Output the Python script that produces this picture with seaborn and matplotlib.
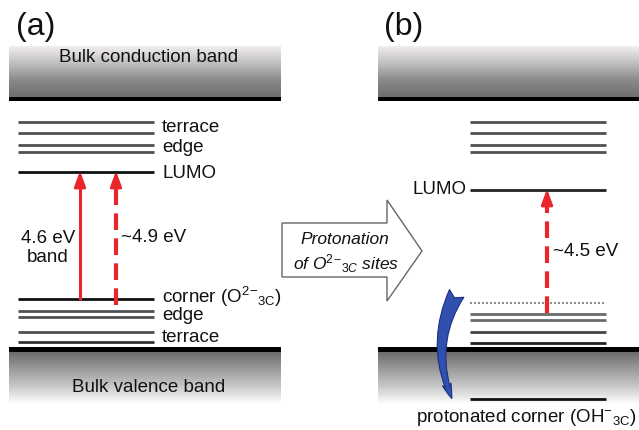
import numpy as np
import matplotlib
matplotlib.use("Agg")
import matplotlib.pyplot as plt
import seaborn as sns
from matplotlib.colors import LinearSegmentedColormap
from matplotlib.patches import Polygon, FancyArrowPatch

sns.set_theme(style="white")
plt.rcParams['font.family'] = ['Liberation Sans', 'DejaVu Sans']
plt.rcParams['mathtext.fontset'] = 'custom'
plt.rcParams['mathtext.rm'] = 'Liberation Sans'
plt.rcParams['mathtext.it'] = 'Liberation Sans:italic'

# ---- data (pixel-space energy levels) ----
panel_labels = ["(a)", "(b)"]
a_level_y = [122, 133, 145, 152, 172, 299, 311, 317, 332, 342]
a_level_c = ["#505050", "#505050", "#505050", "#505050", "#111111",
             "#111111", "#505050", "#505050", "#505050", "#333333"]
a_level_names = ["terrace", "edge", "LUMO",
                 "corner (O$^{\\mathrm{2}}$$^{-}$$_{\\mathrm{3C}}$)", "edge", "terrace"]
a_name_y = [127, 148, 173, 297, 316, 338]
b_level_y = [122, 133, 145, 152, 190, 314, 320, 332, 343, 399]
b_level_c = ["#505050", "#505050", "#505050", "#505050", "#222222",
             "#6a6a6a", "#6a6a6a", "#444444", "#222222", "#111111"]
b_dotted_y = 303
a_transitions = ["4.6 eV\nband", "~4.9 eV"]
b_transition = "~4.5 eV"

fig = plt.figure(figsize=(6.39, 4.30), dpi=100)
ax = fig.add_axes([0, 0, 1, 1])
ax.set_xlim(0, 639)
ax.set_ylim(430, 0)
ax.axis('off')

cb_cmap = LinearSegmentedColormap.from_list("cb", ["#f2eeee", "#c0c0c0", "#8a8a8a", "#6e6e6e"])
vb_cmap = LinearSegmentedColormap.from_list("vb", ["#6a6a6a", "#9a9a9a", "#c8c8c8", "#ffffff"])
grad = np.linspace(0, 1, 200)[:, None]

for (x0, x1) in [(9, 281), (378, 639)]:
    ax.imshow(grad, extent=(x0, x1, 97, 46), cmap=cb_cmap, aspect='auto', origin='upper', zorder=1)
    ax.fill_between([x0, x1], 97, 100.5, color='black', zorder=2, lw=0)
    ax.imshow(grad, extent=(x0, x1, 404, 351), cmap=vb_cmap, aspect='auto', origin='upper', zorder=1)
    ax.fill_between([x0, x1], 346.5, 351.5, color='black', zorder=2, lw=0)

lab_fs = 13.5
ax.text(149, 58, "Bulk conduction band", ha='center', va='center', fontsize=13.5, color='#111111', zorder=3)
ax.text(149, 387, "Bulk valence band", ha='center', va='center', fontsize=13.5, color='#111111', zorder=3)

ax.text(16, 27, panel_labels[0], ha='left', va='center', fontsize=23, color='#111111')
ax.text(384, 27, panel_labels[1], ha='left', va='center', fontsize=23, color='#111111')

for y, c in zip(a_level_y, a_level_c):
    ax.plot([18, 154], [y, y], color=c, lw=2.0, solid_capstyle='butt', zorder=3)
for y, c in zip(b_level_y, b_level_c):
    ax.plot([470, 606], [y, y], color=c, lw=2.0, solid_capstyle='butt', zorder=3)
ax.plot([470, 606], [b_dotted_y, b_dotted_y], color='#777777', lw=1.2, ls=(0, (1.2, 1.2)), zorder=3)

for name, y in zip(a_level_names, a_name_y):
    ax.text(162, y, name, ha='left', va='center', fontsize=lab_fs, color='#111111')
ax.text(467, 190, "LUMO", ha='right', va='center', fontsize=lab_fs, color='#111111')
ax.text(416, 417, "protonated corner (OH$^{-}$$_{\\mathrm{3C}}$)", ha='left', va='center',
        fontsize=lab_fs, color='#111111')

red = "#e8262c"
head = '-|>,head_length=0.75,head_width=0.28'
# solid arrow (a)
ax.plot([80, 80], [299, 180], color=red, lw=2.2, zorder=4)
ax.annotate("", xy=(80, 171), xytext=(80, 186),
            arrowprops=dict(arrowstyle=head, color=red, lw=2.2, shrinkA=0, shrinkB=0), zorder=4)
# dashed arrow (a)
ax.plot([116, 116], [305, 182], color=red, lw=3, ls=(0, (4, 2)), zorder=4)
ax.annotate("", xy=(116, 171), xytext=(116, 186),
            arrowprops=dict(arrowstyle=head, color=red, lw=2.2, shrinkA=0, shrinkB=0), zorder=4)
# dashed arrow (b)
ax.plot([547, 547], [313, 200], color=red, lw=3, ls=(0, (4, 2)), zorder=4)
ax.annotate("", xy=(547, 189), xytext=(547, 204),
            arrowprops=dict(arrowstyle=head, color=red, lw=2.2, shrinkA=0, shrinkB=0), zorder=4)

ax.text(48, 248, a_transitions[0], ha='center', va='center', fontsize=lab_fs, color='#111111', linespacing=1.2)
ax.text(121, 238, a_transitions[1], ha='left', va='center', fontsize=lab_fs, color='#111111')
ax.text(553, 252, b_transition, ha='left', va='center', fontsize=lab_fs, color='#111111')

# block arrow
block = Polygon([(282, 223), (387, 223), (387, 200), (422, 251), (387, 301), (387, 277), (282, 277)],
                closed=True, facecolor='white', edgecolor='#666666', lw=1.0, zorder=3)
ax.add_patch(block)
ax.text(345, 240, "Protonation", ha='center', va='center', fontsize=12.5, style='italic', color='#111111', zorder=4)
ax.text(346, 264, "of O$^{\\mathit{2}}$$^{-}$$_{\\mathit{3C}}$ sites", ha='center', va='center', fontsize=12.5,
        style='italic', color='#111111', zorder=4)

# blue curved arrow
blue = FancyArrowPatch((458, 291), (453, 401), connectionstyle="arc3,rad=0.25",
                       arrowstyle="fancy,head_length=0.6,head_width=0.35,tail_width=0.65",
                       mutation_scale=18, facecolor='#3050b0', edgecolor='#1a2f80', lw=0.8, zorder=5)
ax.add_patch(blue)

fig.savefig("out.png", dpi=100)
